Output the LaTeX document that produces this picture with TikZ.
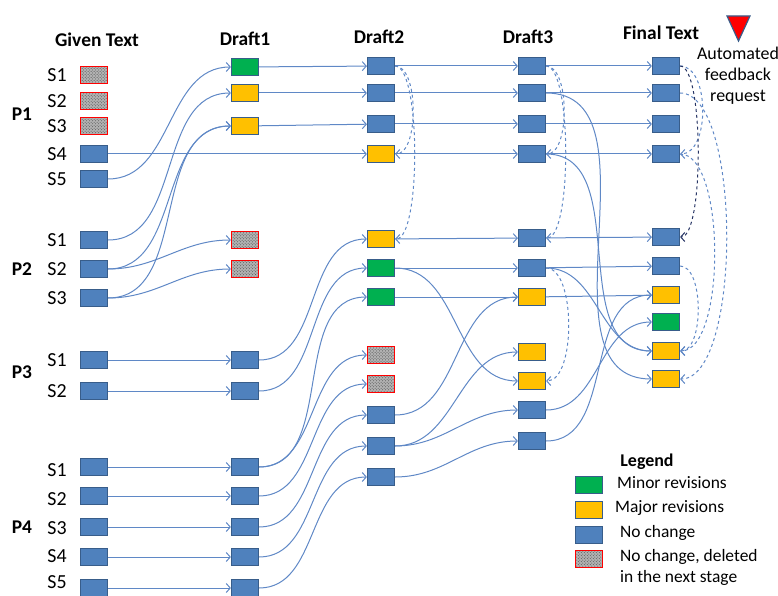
\documentclass[tikz,border=0pt]{standalone}
\usepackage{fontspec}
\setmainfont{Carlito}
\usepackage{tikz}
\usetikzlibrary{arrows.meta,patterns}

\definecolor{boxblue}{RGB}{79,129,189}
\definecolor{boxedge}{RGB}{56,93,138}
\definecolor{boxyellow}{RGB}{255,192,0}
\definecolor{boxgreen}{RGB}{0,176,80}
\definecolor{linkblue}{RGB}{95,136,198}
\definecolor{navydash}{RGB}{38,52,100}

\begin{document}
\begin{tikzpicture}[x=1bp, y=-1bp,
    >={Straight Barb[length=4bp,width=9bp]},
    box/.style={rectangle, draw=boxedge, line width=1.2bp, minimum width=27bp, minimum height=17bp, inner sep=0pt},
    nochg/.style={box, fill=boxblue},
    minor/.style={box, fill=boxgreen},
    major/.style={box, fill=boxyellow},
    gone/.style={box, draw=none, fill=gray!60, postaction={pattern=crosshatch dots, pattern color=gray!60!black},
                 postaction={draw=red, line width=1.8bp}},
    link/.style={->, draw=linkblue, line width=1bp},
    curve/.style={link, out=0, in=180},
    fb/.style={link, dashed},
    txt/.style={font=\fontsize{20}{24}\selectfont, inner sep=0pt},
    note/.style={font=\fontsize{17.5}{21}\selectfont, inner sep=0pt},
    head/.style={font=\bfseries\fontsize{19.5}{23}\selectfont, inner sep=0pt},
]
\useasboundingbox (0,0) rectangle (778,596);

% Column titles
\node[head] (tG) at (97,40) {Given Text};
\node[head] (tA) at (245,39) {Draft1};
\node[head] (tB) at (379,37) {Draft2};
\node[head] (tC) at (528,37) {Draft3};
\node[head] (tF) at (661,33) {Final Text};

% Given text
\node[head] (p1) at (22,114) {P1};
\foreach \s/\y/\k in {1/75/gone, 2/101/gone, 3/126/gone, 4/154/nochg, 5/179/nochg} {
    \node[\k] (G1\s) at (94,\y) {};
    \node[txt] (s1\s) at (57,\y) {S\s};
}
\node[head] (p2) at (22,269) {P2};
\foreach \s/\y in {1/240, 2/269, 3/298} {
    \node[nochg] (G2\s) at (94,\y) {};
    \node[txt] (s2\s) at (57,\y) {S\s};
}
\node[head] (p3) at (22,372) {P3};
\foreach \s/\y in {1/360, 2/391} {
    \node[nochg] (G3\s) at (94,\y) {};
    \node[txt] (s3\s) at (57,\y) {S\s};
}
\node[head] (p4) at (22,527) {P4};
\foreach \s/\y/\l in {1/467/470, 2/496/499, 3/527/528, 4/557/556, 5/588/582} {
    \node[nochg] (G4\s) at (94,\y) {};
    \node[txt] (s4\s) at (57,\l) {S\s};
}

% Draft1
\foreach \i/\y/\k in {1/67/minor, 2/93/major, 3/126/major, 4/240/gone, 5/269/gone, 6/360/nochg,
                      7/391/nochg, 8/467/nochg, 9/496/nochg, 10/527/nochg, 11/557/nochg, 12/588/nochg}
    \node[\k] (A\i) at (245,\y) {};

% Draft2
\foreach \i/\y/\k in {1/66/nochg, 2/93/nochg, 3/124/nochg, 4/154/major, 5/239/major, 6/268/minor,
                      7/297/minor, 8/355/gone, 9/384/gone, 10/415/nochg, 11/446/nochg, 12/477/nochg}
    \node[\k] (B\i) at (381,\y) {};

% Draft3
\foreach \i/\y/\k in {1/66/nochg, 2/93/nochg, 3/124/nochg, 4/154/nochg, 5/238/nochg, 6/268/nochg,
                      7/297/major, 8/352/major, 9/381/major, 10/410/nochg, 11/441/nochg}
    \node[\k] (C\i) at (532,\y) {};

% Final text
\foreach \i/\y/\k in {1/66/nochg, 2/93/nochg, 3/124/nochg, 4/154/nochg, 5/237/nochg, 6/266/nochg,
                      7/295/major, 8/322/minor, 9/351/major, 10/379/major}
    \node[\k] (F\i) at (666,\y) {};

% Straight links
\draw[link] (G14) -- (B4);
\foreach \s/\t in {G31/A6, G32/A7, G41/A8, G42/A9, G43/A10, G44/A11, G45/A12,
                   A1/B1, A2/B2, A3/B3,
                   B1/C1, B2/C2, B3/C3, B4/C4, B5/C5, B6/C6, B7/C7,
                   C1/F1, C2/F2, C3/F3, C4/F4, C5/F5, C6/F6, C7/F7}
    \draw[link] (\s) -- (\t);

% Moved sentences
\foreach \s/\t in {G15/A1, G21/A2, G22/A3, G23/A3, G22/A4, G23/A5,
                   A6/B5, A7/B6, A8/B7, A8/B8, A9/B9, A10/B10, A11/B11, A12/B12,
                   B6/C9, B10/C7, B11/C8, B11/C10, B12/C11,
                   C2/F10, C4/F9, C6/F9, C10/F8, C11/F7}
    \draw[curve] (\s.east) to (\t.west);

% Feedback requests
\foreach \s/\t/\d in {B1/B4/24, B1/B5/26, C1/C4/24, C1/C5/26, C6/C9/30,
                      F1/F4/30, F2/F10/62, F4/F9/46, F6/F9/24}
    \draw[fb] (\s.east) to[out=0, in=0, distance=\d bp] (\t.east);
\draw[fb, draw=navydash] (F1.east) to[out=0, in=0, distance=24bp] (F5.east);

% Automated feedback request
\draw[fill=red, draw=boxedge, line width=1.2bp] (727,16) -- (750,16) -- (738.5,41) -- cycle;
\node[note, font=\fontsize{18}{21}\selectfont, align=center] (req) at (738,76) {Automated\\feedback\\request};

% Legend
\node[head, font=\bfseries\fontsize{18}{21}\selectfont] (leg) at (647,462) {Legend};
\node[minor] (k1) at (589,485) {};
\node[major] (k2) at (589,510) {};
\node[nochg] (k3) at (589,535) {};
\node[gone] (k4) at (589,559) {};
\node[note, anchor=west] (l1) at (617,483) {Minor revisions};
\node[note, anchor=west] (l2) at (615,508) {Major revisions};
\node[note, anchor=west] (l3) at (620,533) {No change};
\node[note, anchor=west, align=left] (l4) at (620,567) {No change, deleted\\in the next stage};

\end{tikzpicture}
\end{document}
